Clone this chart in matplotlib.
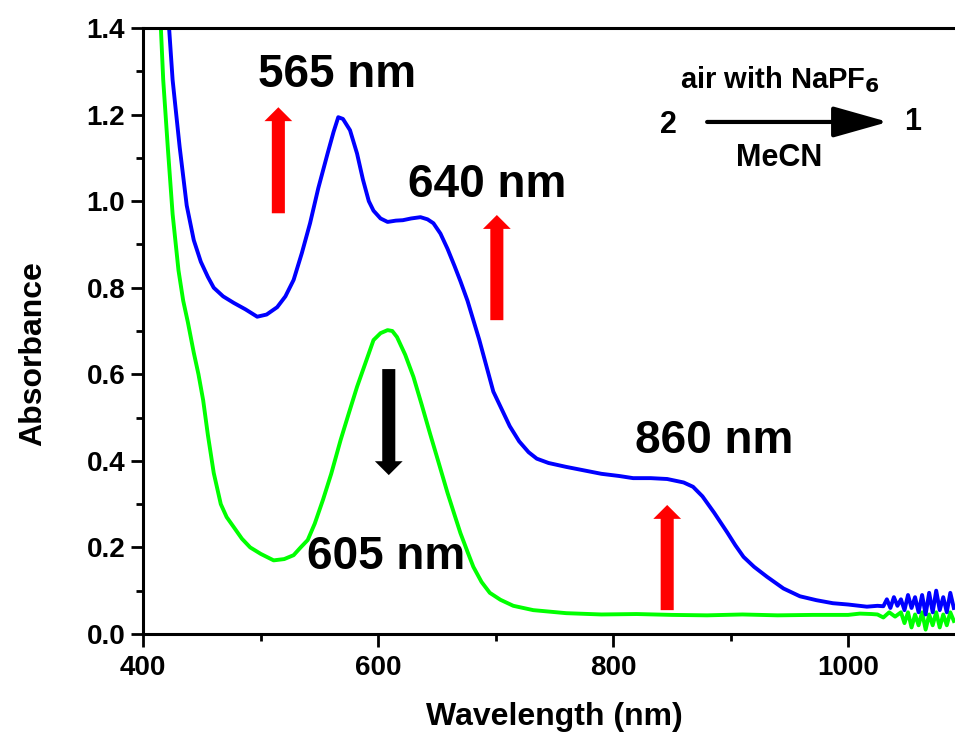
import numpy as np
import matplotlib
matplotlib.use("Agg")
import matplotlib.pyplot as plt
from matplotlib.ticker import MultipleLocator

plt.rcParams['font.family'] = ['Liberation Sans', 'DejaVu Sans']
plt.rcParams['font.weight'] = 'bold'

# spectrum of 1 (after air/NaPF6), blue
blue_nm = [418, 422, 425, 431, 437, 443, 449, 455, 460, 468, 477, 487, 497, 505, 514,
           521, 528, 535, 542, 549, 557, 562, 566, 570, 576, 582, 587, 592, 596, 602,
           608, 615, 621, 628, 636, 642, 647, 653, 659, 665, 670, 676, 681, 686, 691,
           698, 705, 712, 720, 728, 735, 745, 760, 775, 790, 805, 817, 832, 846, 860,
           868, 876, 886, 897, 904, 911, 920, 931, 945, 959, 973, 987, 1000, 1016, 1025,
           1030, 1033, 1036, 1039, 1042, 1045, 1048, 1051, 1054, 1057, 1060, 1063, 1066,
           1069, 1072, 1075, 1078, 1081, 1084, 1087, 1090]
blue_abs = [1.50, 1.40, 1.28, 1.125, 0.99, 0.91, 0.86, 0.825, 0.80, 0.78, 0.765, 0.75, 0.733, 0.738, 0.755,
            0.78, 0.818, 0.88, 0.949, 1.03, 1.111, 1.16, 1.194, 1.19, 1.164, 1.11, 1.05, 1.0, 0.978, 0.96,
            0.952, 0.955, 0.956, 0.96, 0.963, 0.958, 0.949, 0.925, 0.89, 0.85, 0.815, 0.77, 0.725, 0.68, 0.63,
            0.56, 0.52, 0.48, 0.445, 0.42, 0.405, 0.395, 0.386, 0.378, 0.37, 0.365, 0.36, 0.36, 0.358, 0.35,
            0.34, 0.318, 0.28, 0.235, 0.205, 0.178, 0.155, 0.132, 0.105, 0.087, 0.078, 0.071, 0.068, 0.063, 0.065,
            0.064, 0.08, 0.06, 0.085, 0.065, 0.08, 0.055, 0.09, 0.06, 0.085, 0.05, 0.09, 0.045,
            0.095, 0.05, 0.10, 0.055, 0.085, 0.05, 0.095, 0.06]

# spectrum of 2 (starting material), green
green_nm = [413, 415, 417, 421, 425, 430, 434, 438, 443, 447, 451, 455, 460, 466, 471,
            477, 484, 491, 500, 511, 520, 528, 534, 540, 546, 553, 560, 568, 575, 582,
            589, 596, 602, 608, 612, 616, 623, 630, 637, 644, 651, 659, 665, 670, 676,
            681, 688, 695, 704, 715, 732, 760, 790, 820, 850, 880, 910, 940, 970, 1000,
            1010, 1020, 1025, 1030, 1035, 1040, 1045, 1048, 1051, 1054, 1057, 1060, 1063,
            1066, 1069, 1072, 1075, 1078, 1081, 1084, 1087, 1090]
green_abs = [1.5, 1.4, 1.28, 1.12, 0.97, 0.84, 0.77, 0.72, 0.65, 0.60, 0.54, 0.46, 0.372, 0.30, 0.27,
             0.247, 0.22, 0.20, 0.185, 0.17, 0.173, 0.182, 0.2, 0.217, 0.255, 0.31, 0.37, 0.448, 0.51, 0.571,
             0.625, 0.679, 0.695, 0.702, 0.700, 0.686, 0.645, 0.594, 0.53, 0.464, 0.40, 0.326, 0.275, 0.233, 0.19,
             0.155, 0.12, 0.095, 0.079, 0.065, 0.055, 0.048, 0.045, 0.046, 0.044, 0.043, 0.045, 0.043, 0.044, 0.044,
             0.047, 0.046, 0.045, 0.038, 0.05, 0.04, 0.05, 0.025, 0.05, 0.015, 0.045, 0.02, 0.05,
             0.01, 0.045, 0.02, 0.05, 0.015, 0.045, 0.02, 0.05, 0.03]

# band labels and arrows: (text, text x, text y, arrow x, arrow base, arrow tip, colour)
band_text = ['565 nm', '640 nm', '860 nm', '605 nm']
band_text_x = [565, 693, 886, 607]
band_text_y = [1.291, 1.037, 0.446, 0.178]
arrow_x = [515, 701, 846, 609]
arrow_from = [0.972, 0.725, 0.055, 0.612]
arrow_to = [1.217, 0.968, 0.298, 0.367]
arrow_col = ['#ff0000', '#ff0000', '#ff0000', '#000000']

fig = plt.figure(figsize=(9.55, 7.38), dpi=100)
ax = fig.add_axes([0.150, 0.141, 0.850, 0.821])

ax.plot(green_nm, green_abs, color='#00ff00', lw=2.8)
ax.plot(blue_nm, blue_abs, color='#0000ff', lw=2.8)

ax.set_xlim(400, 1091)
ax.set_ylim(0, 1.4)
ax.xaxis.set_major_locator(MultipleLocator(200))
ax.xaxis.set_minor_locator(MultipleLocator(100))
ax.yaxis.set_major_locator(MultipleLocator(0.2))
ax.yaxis.set_minor_locator(MultipleLocator(0.1))
ax.yaxis.set_major_formatter(plt.FuncFormatter(lambda v, p: f'{v:.1f}'))
ax.tick_params(which='major', length=9, width=2, labelsize=20, direction='out')
ax.tick_params(which='minor', length=5, width=2, direction='out')
ax.tick_params(axis='y', pad=4)
ax.tick_params(axis='x', pad=6)
for s in ['left', 'bottom', 'top']:
    ax.spines[s].set_linewidth(2.2)
ax.spines['right'].set_visible(False)

ax.set_xlabel('Wavelength (nm)', fontsize=23, fontweight='bold')
ax.set_ylabel('Absorbance', fontsize=23, fontweight='bold')
ax.xaxis.set_label_coords(0.507, -0.112)
ax.yaxis.set_label_coords(-0.117, 0.462)

for i in range(len(band_text)):
    ax.text(band_text_x[i], band_text_y[i], band_text[i], fontsize=33, fontweight='bold',
            ha='center', va='center')
    ax.annotate('', xy=(arrow_x[i], arrow_to[i]), xytext=(arrow_x[i], arrow_from[i]),
                arrowprops=dict(arrowstyle='simple,head_width=1.0,head_length=0.5,tail_width=0.47',
                                mutation_scale=20, color=arrow_col[i], shrinkA=0, shrinkB=0, lw=0))

# reaction scheme 2 -> 1
ax.annotate('', xy=(1034, 1.183), xytext=(880, 1.183),
            arrowprops=dict(arrowstyle='-|>,head_length=1.7,head_width=0.48', color='black',
                            lw=3, shrinkA=0, shrinkB=0, mutation_scale=20))
ax.text(847, 1.176, '2', fontsize=22, fontweight='bold', ha='center', va='center')
ax.text(1055, 1.183, '1', fontsize=22, fontweight='bold', ha='center', va='center')
ax.text(942, 1.28, r'air with NaPF$_\mathbf{6}$', fontsize=21, fontweight='bold', ha='center', va='center')
ax.text(941, 1.10, 'MeCN', fontsize=22, fontweight='bold', ha='center', va='center')

fig.savefig('out.png', dpi=100)
